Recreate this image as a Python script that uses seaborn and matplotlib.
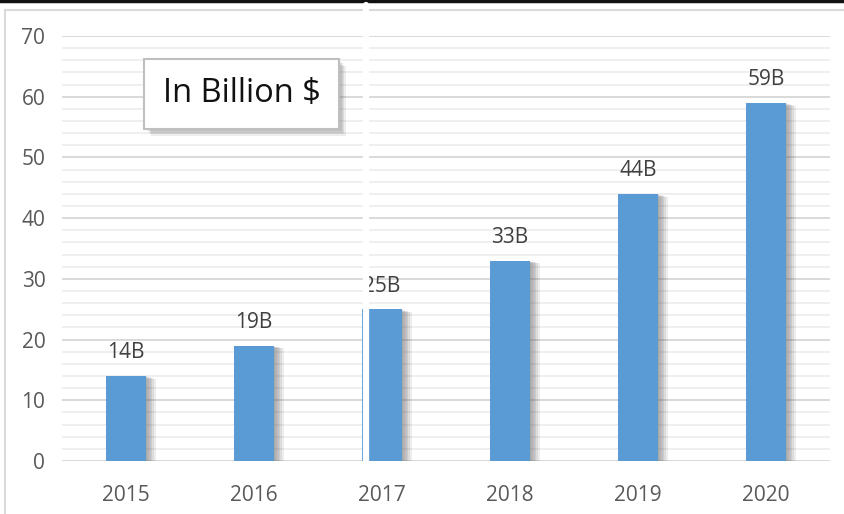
import matplotlib
matplotlib.use("Agg")
import matplotlib.pyplot as plt
import matplotlib.patheffects as pe
from matplotlib.lines import Line2D
from matplotlib.ticker import MultipleLocator
import seaborn as sns
import pandas as pd

years = ["2015", "2016", "2017", "2018", "2019", "2020"]
values = [14, 19, 25, 33, 44, 59]
labels = ["14B", "19B", "25B", "33B", "44B", "59B"]

sns.set_style("white")
plt.rcParams['font.family'] = ['Open Sans', 'DejaVu Sans']

df = pd.DataFrame({"year": years, "value": values})

W, H = 845, 514
fig = plt.figure(figsize=(W / 100, H / 100), dpi=100)
ax = fig.add_axes([62 / W, 1 - 461 / H, (830 - 62) / W, (461 - 36) / H])

sns.barplot(data=df, x="year", y="value", color="#5B9BD5", width=0.31,
            saturation=1, ax=ax, zorder=3, linewidth=0, edgecolor="none")


def soft_shadow(dx, dy, steps=6, alpha=0.09):
    effs = []
    for i in range(steps, 0, -1):
        effs.append(pe.SimplePatchShadow(offset=(dx * i / steps, dy * i / steps),
                                         shadow_rgbFace="#505050", alpha=alpha))
    effs.append(pe.Normal())
    return effs


for p in ax.patches:
    p.set_path_effects(soft_shadow(7, -2, alpha=0.1))
ax.bar_label(ax.containers[0], labels=labels, padding=9, color="#404040", fontsize=15)

ax.set_ylim(0, 70)
ax.set_xlim(-0.5, 5.5)
ax.yaxis.set_major_locator(MultipleLocator(10))
ax.yaxis.set_minor_locator(MultipleLocator(2))
ax.grid(which="major", axis="y", color="#D9D9D9", linewidth=1.4, zorder=0)
ax.grid(which="minor", axis="y", color="#EFEFEF", linewidth=1.4, zorder=0)
ax.set_axisbelow(True)
for s in ax.spines.values():
    s.set_visible(False)
ax.tick_params(axis="both", which="both", length=0, colors="#595959", labelsize=15)
ax.tick_params(axis="y", pad=12)
ax.tick_params(axis="x", pad=17)
ax.set_xlabel("")
ax.set_ylabel("")

# legend-like box
ax.text(0.234, 0.864, "In Billion $", transform=ax.transAxes, fontsize=23.5, color="#111111",
        ha="center", va="center", zorder=5,
        bbox=dict(boxstyle="square,pad=0.56", facecolor="white", edgecolor="#BFBFBF", linewidth=1.5,
                  path_effects=soft_shadow(5, -5, steps=5, alpha=0.1)))

# outer frame lines
fig.add_artist(Line2D([5 / W, 5 / W], [0, 1 - 10 / H], color="#D9D9D9", linewidth=1.5))
fig.add_artist(Line2D([5 / W, 1], [1 - 10 / H, 1 - 10 / H], color="#D9D9D9", linewidth=1.5))
fig.add_artist(Line2D([0, 1], [1 - 1 / H, 1 - 1 / H], color="#111111", linewidth=2.5))
# white split artifact
fig.add_artist(Line2D([366 / W, 366 / W], [1 - 461 / H, 1 - 5 / H], color="white", linewidth=4.5, zorder=10))

fig.savefig("out.png", dpi=100, facecolor="white")
